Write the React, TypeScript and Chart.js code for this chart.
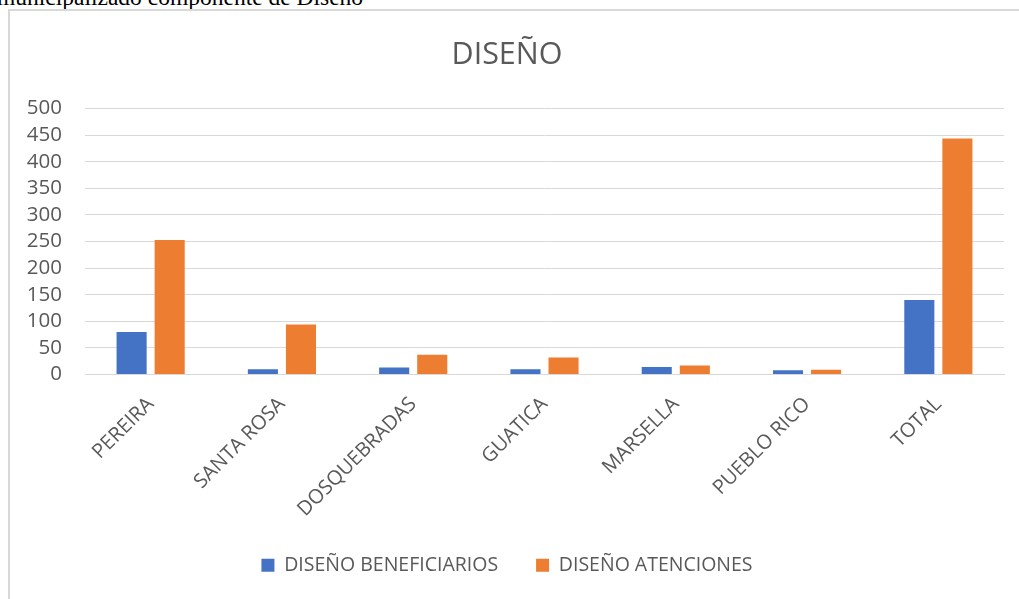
import React, { useEffect, useRef } from "react";
import { Chart, registerables } from "chart.js";

Chart.register(...registerables);

const categories = ["PEREIRA", "SANTA ROSA", "DOSQUEBRADAS", "GUATICA", "MARSELLA", "PUEBLO RICO", "TOTAL"];
const beneficiarios = [80, 10, 13, 10, 14, 8, 140];
const atenciones = [253, 94, 37, 32, 17, 9, 444];
const seriesNames = ["DISEÑO BENEFICIARIOS", "DISEÑO ATENCIONES"];
const yMin = 0;
const yMax = 500;
const yStep = 50;

const FONT = "'Open Sans', 'Liberation Sans', Arial, sans-serif";
const TEXT = "#595959";
const GRID = "#d9d9d9";

export default function App() {
  const ref = useRef<HTMLCanvasElement | null>(null);

  useEffect(() => {
    if (!ref.current) return;
    const chart = new Chart(ref.current, {
      type: "bar",
      data: {
        labels: categories,
        datasets: [
          {
            label: seriesNames[0],
            data: beneficiarios,
            backgroundColor: "#4472C4",
            categoryPercentage: 0.58,
            barPercentage: 0.79,
          },
          {
            label: seriesNames[1],
            data: atenciones,
            backgroundColor: "#ED7D31",
            categoryPercentage: 0.58,
            barPercentage: 0.79,
          },
        ],
      },
      options: {
        responsive: false,
        animation: false,
        layout: { padding: { left: 0, right: 27, top: 0, bottom: 14 } },
        plugins: {
          title: {
            display: true,
            text: "DISEÑO",
            color: TEXT,
            font: { family: FONT, size: 30.5, weight: "normal" },
            padding: { top: 26, bottom: 35 },
          },
          legend: {
            position: "bottom",
            labels: {
              boxWidth: 13,
              boxHeight: 13,
              color: TEXT,
              font: { family: FONT, size: 19.5 },
              padding: 38,
            },
          },
          tooltip: { enabled: false },
        },
        scales: {
          x: {
            grid: { display: false },
            border: { color: GRID, width: 1 },
            ticks: {
              color: TEXT,
              font: { family: FONT, size: 20 },
              minRotation: 45,
              maxRotation: 45,
              padding: 10,
              autoSkip: false,
            },
            afterFit: (s: any) => {
              s.height = 143;
            },
          },
          y: {
            min: yMin,
            max: yMax,
            ticks: {
              stepSize: yStep,
              color: TEXT,
              font: { family: FONT, size: 20.5 },
              padding: 23,
              autoSkip: false,
            },
            grid: { color: GRID, drawTicks: false, lineWidth: 1 },
            border: { display: false },
            afterFit: (s: any) => {
              s.width = 75;
            },
          },
        },
      },
    });
    return () => chart.destroy();
  }, []);

  return (
    <div style={{ position: "relative", width: 1019, height: 599, overflow: "hidden", background: "#fff" }}>
      <style>{"body{margin:0;overflow:hidden;}"}</style>
      <div
        style={{
          position: "absolute",
          left: -3,
          top: -15,
          fontFamily: "'Liberation Serif', 'Times New Roman', serif",
          fontSize: 23.5,
          lineHeight: "24px",
          whiteSpace: "nowrap",
          color: "#000",
        }}
      >
        municipalizado componente de Diseño
      </div>
      <div
        style={{
          position: "absolute",
          left: 8,
          top: 9,
          width: 1021,
          height: 600,
          border: "2px solid #d9d9d9",
          background: "#fff",
        }}
      >
        <canvas ref={ref} width={1021} height={588} style={{ display: "block", width: 1021, height: 588 }} />
      </div>
    </div>
  );
}
